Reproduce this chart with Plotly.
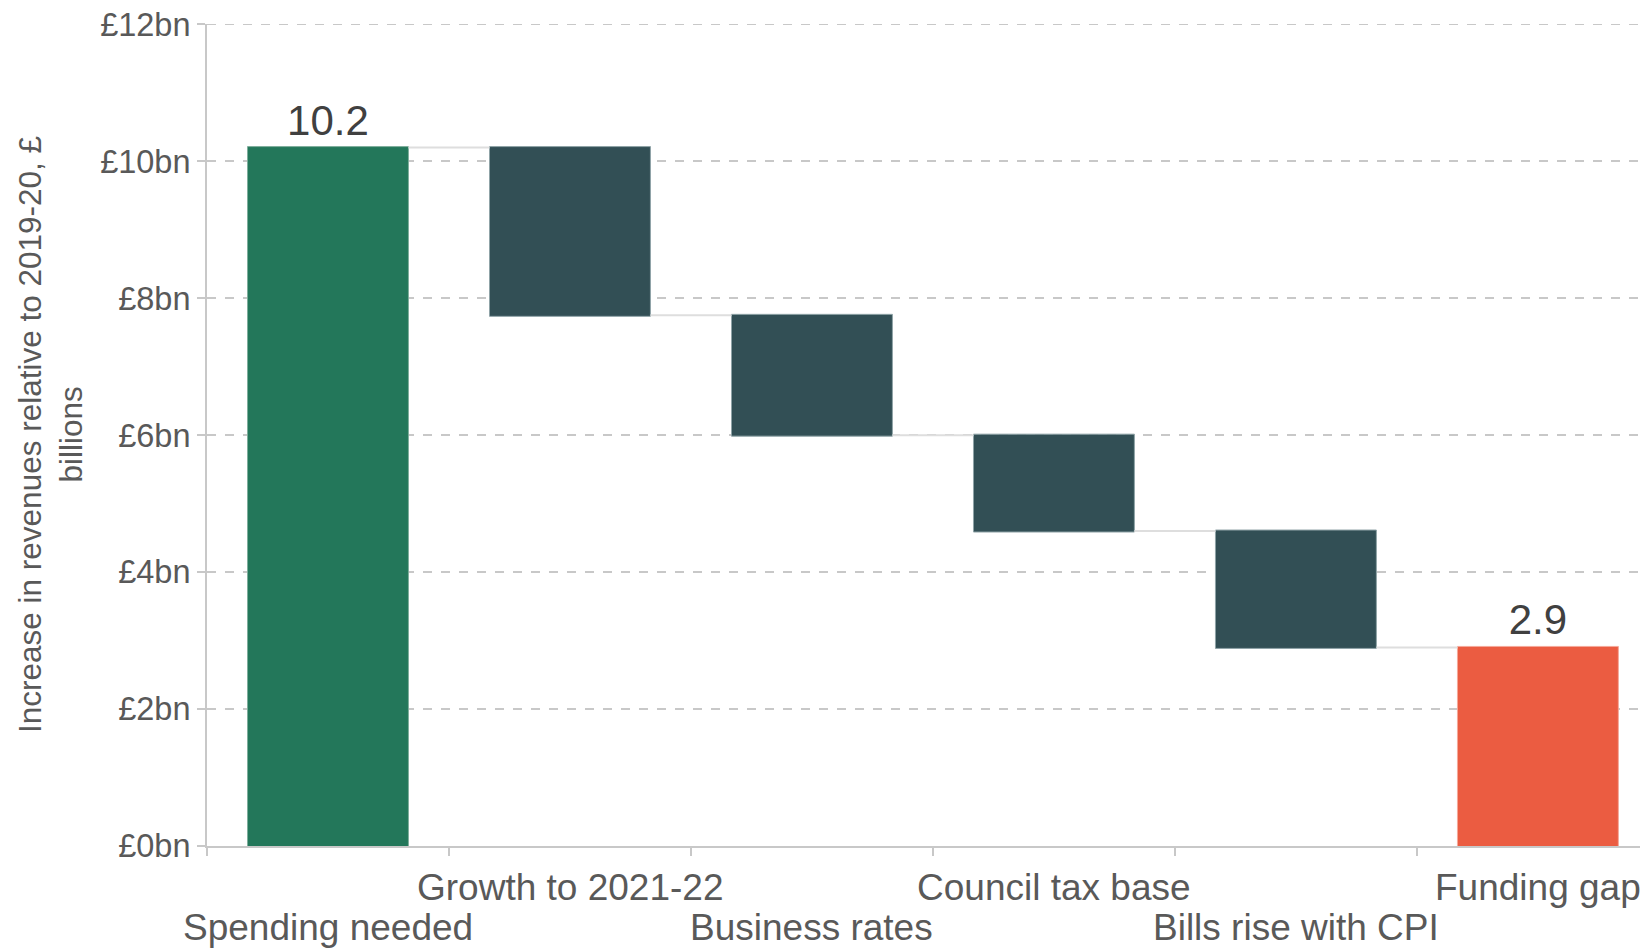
import plotly.graph_objects as go

categories = ["Spending needed", "Growth to 2021-22", "Business rates",
              "Council tax base", "Bills rise with CPI", "Funding gap"]
values = [10.2, -2.45, -1.75, -1.4, -1.7, 2.9]
measures = ["relative", "relative", "relative", "relative", "relative", "total"]
bar_text = ["10.2", "", "", "", "", "2.9"]
y_tickvals = [0, 2, 4, 6, 8, 10, 12]
y_ticktext = ["£0bn", "£2bn", "£4bn", "£6bn", "£8bn", "£10bn", "£12bn"]
y_title = "Increase in revenues relative to 2019-20, £<br>billions"

x_pos = list(range(len(categories)))
FONT = "Liberation Sans, Arial, sans-serif"
GRID = "#c8c8c8"

fig = go.Figure()
fig.add_trace(go.Waterfall(
    x=x_pos, y=values, measure=measures,
    text=bar_text, textposition="outside",
    textfont=dict(size=42, color="#404040", family=FONT),
    width=0.665,
    increasing=dict(marker=dict(color="#23775A", line=dict(color="#7fae9c", width=1))),
    decreasing=dict(marker=dict(color="#324F55", line=dict(color="#8fa3a7", width=1))),
    totals=dict(marker=dict(color="#EB5C41", line=dict(color="#f5a899", width=1))),
    connector=dict(line=dict(color="#dedede", width=2), mode="between"),
    cliponaxis=False,
    hoverinfo="skip",
))

annotations = []
for i, c in enumerate(categories):
    annotations.append(dict(
        x=i, xref="x", y=0, yref="paper",
        text=c, showarrow=False, xanchor="center", yanchor="middle",
        yshift=-41 if i % 2 == 1 else -81,
        font=dict(size=37, color="#595959", family=FONT),
    ))
annotations.append(dict(
    x=0, xref="paper", y=0.5, yref="paper", text=y_title, showarrow=False,
    textangle=-90, xanchor="center", yanchor="middle", xshift=-157,
    font=dict(size=31.5, color="#595959", family=FONT),
))

# top gridline (plotly omits the gridline at the range edge)
top_val = max(y_tickvals)
shapes = [dict(type="line", xref="paper", x0=0, x1=1, yref="y", y0=top_val, y1=top_val,
               line=dict(color=GRID, width=1.5, dash="dash"), layer="below")]

fig.update_layout(
    width=1640, height=940,
    margin=dict(l=199, r=0, t=16, b=102),
    paper_bgcolor="white", plot_bgcolor="white",
    showlegend=False,
    annotations=annotations,
    shapes=shapes,
    font=dict(family=FONT, color="#595959"),
)
fig.update_xaxes(
    range=[-0.5, 5.455],
    tickmode="array", tickvals=x_pos, ticktext=[""] * len(categories),
    ticks="", showgrid=False, zeroline=False,
    showline=True, linecolor=GRID, linewidth=2,
    minor=dict(tickmode="array", tickvals=[-0.5, 0.5, 1.5, 2.5, 3.5, 4.5],
               ticks="outside", ticklen=8, tickwidth=2, tickcolor=GRID, showgrid=False),
)
fig.update_yaxes(
    range=[0, 12.005],
    tickmode="array", tickvals=y_tickvals, ticktext=y_ticktext,
    ticks="outside", ticklen=8, tickwidth=2, tickcolor=GRID,
    tickfont=dict(size=32.5, color="#595959"),
    ticklabeloverflow="allow",
    showgrid=True, gridcolor=GRID, gridwidth=1.5, griddash="dash",
    zeroline=False, showline=True, linecolor=GRID, linewidth=2,
)

fig.write_html("out.html")
